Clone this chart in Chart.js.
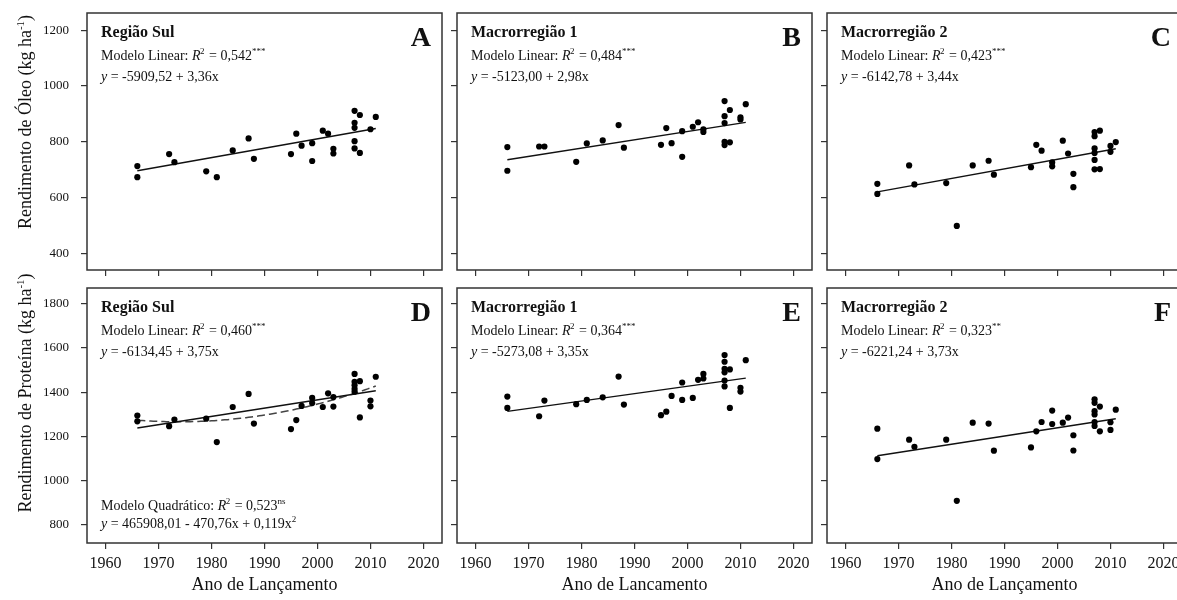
<!DOCTYPE html>
<html>
<head>
<meta charset="utf-8">
<script src="https://cdn.jsdelivr.net/npm/chart.js@4.4.0/dist/chart.umd.min.js"></script>
<style>
  html, body { margin: 0; padding: 0; background: #fff; overflow: hidden; }
  #wrap { position: relative; width: 1177px; height: 600px; overflow: hidden; }
  #wrap canvas { position: absolute; left: 0; top: 0; }
</style>
</head>
<body>
<div id="wrap"></div>
<script>
// ---- tick labels ----
const yearTicks = [1960, 1970, 1980, 1990, 2000, 2010, 2020];
const oilTicks = [400, 600, 800, 1000, 1200];
const proteinTicks = [800, 1000, 1200, 1400, 1600, 1800];

// ---- A: Região Sul, óleo ----
const yearsA = [1966,1966,1972,1973,1979,1981,1984,1987,1988,1995,1996,1997,1999,1999,2001,2002,2003,2003,2007,2007,2007,2007,2007,2008,2008,2010,2011];
const oilA   = [713,673,756,727,694,673,769,812,739,756,829,786,795,731,840,829,775,758,911,868,850,802,776,896,760,845,889];

// ---- B: Macrorregião 1, óleo ----
const yearsB = [1966,1966,1972,1973,1979,1981,1984,1987,1988,1995,1996,1997,1999,1999,2001,2002,2003,2003,2007,2007,2007,2007,2007,2008,2008,2010,2010,2011];
const oilB   = [781,696,783,783,728,794,805,860,779,789,849,795,838,746,854,870,845,835,946,892,867,800,788,914,798,888,880,935];

// ---- C: Macrorregião 2, óleo ----
const yearsC = [1966,1966,1972,1973,1979,1981,1984,1987,1988,1995,1996,1997,1999,1999,2001,2002,2003,2003,2007,2007,2007,2007,2007,2007,2008,2008,2010,2010,2011];
const oilC   = [649,613,715,647,652,498,715,732,682,709,789,768,726,712,804,758,685,637,835,820,776,760,735,701,840,702,785,764,799];

// ---- D: Região Sul, proteína ----
const yearsD = [1966,1966,1972,1973,1979,1981,1984,1987,1988,1995,1996,1997,1999,1999,2001,2002,2003,2003,2007,2007,2007,2007,2007,2008,2008,2010,2010,2011];
const protD  = [1294,1268,1246,1276,1280,1174,1333,1392,1258,1233,1274,1338,1374,1351,1333,1395,1378,1335,1483,1447,1432,1415,1402,1450,1286,1362,1336,1470];

// ---- E: Macrorregião 1, proteína ----
const yearsE = [1966,1966,1972,1973,1979,1981,1984,1987,1988,1995,1996,1997,1999,1999,2001,2002,2003,2003,2007,2007,2007,2007,2007,2007,2008,2008,2010,2010,2011];
const protE  = [1380,1329,1291,1362,1346,1365,1377,1471,1344,1296,1312,1383,1444,1365,1374,1456,1483,1462,1568,1538,1506,1490,1453,1426,1503,1329,1420,1403,1545];

// ---- F: Macrorregião 2, proteína ----
const yearsF = [1966,1966,1972,1973,1979,1981,1984,1987,1988,1995,1996,1997,1999,1999,2001,2002,2003,2003,2007,2007,2007,2007,2007,2007,2008,2008,2010,2010,2011];
const protF  = [1235,1097,1185,1153,1185,908,1262,1258,1135,1150,1223,1265,1317,1256,1262,1285,1205,1136,1368,1352,1314,1299,1265,1247,1335,1223,1264,1229,1321];

// ---- fitted linear models (intercept, slope) ----
const linA = [-5909.52, 3.36];
const linB = [-5123.00, 2.98];
const linC = [-6142.78, 3.44];
const linD = [-6134.45, 3.75];
const linE = [-5273.08, 3.35];
const linF = [-6221.24, 3.73];

const SERIF = '"Liberation Serif", "Times New Roman", serif';
const INK = '#111';
const CW = 1190, CH = 600;
const colLeft = [87, 457, 827];
const boxW = 355;
const rowBox = [{ top: 13, bottom: 270 }, { top: 288, bottom: 543 }];

// least-squares quadratic through the Região Sul protein data (centered for stability)
function quadFit(xs, ys) {
  const n = xs.length, mx = xs.reduce((a, b) => a + b, 0) / n;
  let s = [0, 0, 0, 0, 0], t = [0, 0, 0];
  xs.forEach((x, i) => {
    const u = x - mx, y = ys[i];
    s[0] += 1; s[1] += u; s[2] += u * u; s[3] += u * u * u; s[4] += u * u * u * u;
    t[0] += y; t[1] += u * y; t[2] += u * u * y;
  });
  const M = [[s[0], s[1], s[2], t[0]], [s[1], s[2], s[3], t[1]], [s[2], s[3], s[4], t[2]]];
  for (let c = 0; c < 3; c++) {
    for (let r = c + 1; r < 3; r++) {
      const f = M[r][c] / M[c][c];
      for (let k = c; k < 4; k++) M[r][k] -= f * M[c][k];
    }
  }
  const b = [0, 0, 0];
  for (let r = 2; r >= 0; r--) {
    let v = M[r][3];
    for (let k = r + 1; k < 3; k++) v -= M[r][k] * b[k];
    b[r] = v / M[r][r];
  }
  return x => { const u = x - mx; return b[0] + b[1] * u + b[2] * u * u; };
}

// draws a run of text pieces: [text, font, dy, extraAdvance]
function drawRuns(ctx, x, y, runs, align) {
  let w = 0;
  runs.forEach(r => { ctx.font = r[1]; w += ctx.measureText(r[0]).width + (r[3] || 0); });
  let cx = align === 'center' ? x - w / 2 : (align === 'right' ? x - w : x);
  ctx.textAlign = 'left';
  ctx.textBaseline = 'alphabetic';
  runs.forEach(r => {
    ctx.font = r[1];
    ctx.fillText(r[0], cx, y + (r[2] || 0));
    cx += ctx.measureText(r[0]).width + (r[3] || 0);
  });
}

const fReg = `14px ${SERIF}`;
const fIt = `italic 14px ${SERIF}`;
const fSup = `9px ${SERIF}`;

function modelRuns(label, r2, stars) {
  return [[label + ' ', fReg], ['R', fIt, 0, -0.5], ['2', fSup, -6, 1], [' = ' + r2, fReg], [stars, fSup, -6]];
}
function eqRuns(lin) {
  const a = lin[0].toFixed(2).replace('.', ',');
  const b = lin[1].toFixed(2).replace('.', ',');
  return [['y', fIt], [' = ' + a + ' + ' + b + 'x', fReg]];
}

const panels = [
  { col: 0, row: 0, xs: yearsA, ys: oilA, lin: linA, title: 'Região Sul', r2: '0,542', stars: '***', letter: 'A' },
  { col: 1, row: 0, xs: yearsB, ys: oilB, lin: linB, title: 'Macrorregião 1', r2: '0,484', stars: '***', letter: 'B' },
  { col: 2, row: 0, xs: yearsC, ys: oilC, lin: linC, title: 'Macrorregião 2', r2: '0,423', stars: '***', letter: 'C' },
  { col: 0, row: 1, xs: yearsD, ys: protD, lin: linD, title: 'Região Sul', r2: '0,460', stars: '***', letter: 'D', quad: true, xTitle: 'Ano de Lançamento' },
  { col: 1, row: 1, xs: yearsE, ys: protE, lin: linE, title: 'Macrorregião 1', r2: '0,364', stars: '***', letter: 'E', xTitle: 'Ano de Lancamento' },
  { col: 2, row: 1, xs: yearsF, ys: protF, lin: linF, title: 'Macrorregião 2', r2: '0,323', stars: '**', letter: 'F', xTitle: 'Ano de Lançamento' }
];

const framePlugin = {
  id: 'frame',
  afterDatasetsDraw(chart) {
    const a = chart.chartArea, ctx = chart.ctx;
    ctx.save();
    ctx.strokeStyle = '#333';
    ctx.lineWidth = 1.5;
    ctx.strokeRect(a.left, a.top, a.right - a.left, a.bottom - a.top);
    ctx.restore();
  }
};

const annotPlugin = {
  id: 'annot',
  afterDraw(chart) {
    const p = chart.options.plugins.annot.panel;
    const a = chart.chartArea, ctx = chart.ctx;
    ctx.save();
    ctx.fillStyle = INK;
    const lx = a.left + 14;
    drawRuns(ctx, lx, a.top + 24, [[p.title, `bold 16px ${SERIF}`]]);
    drawRuns(ctx, lx, a.top + 47, modelRuns('Modelo Linear:', p.r2, p.stars));
    drawRuns(ctx, lx, a.top + 68, eqRuns(p.lin));
    drawRuns(ctx, a.right - 11, a.top + 33, [[p.letter, `bold 28px ${SERIF}`]], 'right');
    if (p.quad) {
      drawRuns(ctx, lx, a.bottom - 33, modelRuns('Modelo Quadrático:', '0,523', 'ns'));
      drawRuns(ctx, lx, a.bottom - 15, [['y', fIt], [' = 465908,01 - 470,76x + 0,119x', fReg], ['2', fSup, -6]]);
    }
    if (p.xTitle) {
      drawRuns(ctx, (a.left + a.right) / 2, 590, [[p.xTitle, `18px ${SERIF}`]], 'center');
    }
    if (p.col === 0) {
      const label = p.row === 0 ? 'Rendimento de Óleo (kg ha' : 'Rendimento de Proteína (kg ha';
      const cy = p.row === 0 ? 122 : 393;
      ctx.translate(31, cy);
      ctx.rotate(-Math.PI / 2);
      drawRuns(ctx, 0, 0, [[label, `18px ${SERIF}`], ['-1', `11px ${SERIF}`, -7], [')', `18px ${SERIF}`]], 'center');
    }
    ctx.restore();
  }
};

const wrap = document.getElementById('wrap');

panels.forEach(p => {
  const canvas = document.createElement('canvas');
  canvas.width = CW;
  canvas.height = CH;
  canvas.style.width = CW + 'px';
  canvas.style.height = CH + 'px';
  wrap.appendChild(canvas);

  const box = rowBox[p.row];
  const left = colLeft[p.col];
  const isOil = p.row === 0;
  const yTicks = isOil ? oilTicks : proteinTicks;
  const x0 = Math.min(...p.xs), x1 = Math.max(...p.xs);
  const lf = x => p.lin[0] + p.lin[1] * x;

  const datasets = [
    {
      data: p.xs.map((x, i) => ({ x, y: p.ys[i] })),
      pointRadius: 3.1,
      pointBackgroundColor: '#000',
      pointBorderWidth: 0,
      showLine: false
    },
    {
      data: [{ x: x0, y: lf(x0) }, { x: x1, y: lf(x1) }],
      showLine: true,
      borderColor: '#111',
      borderWidth: 1.4,
      pointRadius: 0,
      fill: false
    }
  ];
  if (p.quad) {
    const qf = quadFit(p.xs, p.ys);
    const pts = [];
    for (let x = x0; x <= x1 + 1e-9; x += 0.5) pts.push({ x, y: qf(x) });
    datasets.push({
      data: pts,
      showLine: true,
      borderColor: '#444',
      borderWidth: 1.5,
      borderDash: [8, 4],
      pointRadius: 0,
      fill: false,
      tension: 0
    });
  }

  const gridOpts = {
    display: true,
    drawOnChartArea: false,
    drawTicks: true,
    tickLength: 6,
    color: '#333',
    lineWidth: 1.2
  };

  new Chart(canvas, {
    type: 'scatter',
    data: { datasets },
    options: {
      responsive: false,
      animation: false,
      devicePixelRatio: 1,
      layout: {
        padding: {
          left: left - 60,
          top: box.top,
          right: CW - (left + boxW),
          bottom: CH - box.bottom - 50
        }
      },
      plugins: {
        legend: { display: false },
        tooltip: { enabled: false },
        annot: { panel: p }
      },
      scales: {
        x: {
          type: 'linear',
          min: 1956.5,
          max: 2023.5,
          afterBuildTicks: s => { s.ticks = yearTicks.map(v => ({ value: v })); },
          afterFit: s => { s.height = 50; s.paddingLeft = 0; s.paddingRight = 0; },
          grid: gridOpts,
          border: { display: false },
          ticks: {
            display: p.row === 1,
            autoSkip: false,
            maxRotation: 0,
            minRotation: 0,
            padding: 5,
            color: INK,
            font: { family: SERIF, size: 16 },
            callback: v => String(v)
          }
        },
        y: {
          type: 'linear',
          min: isOil ? 340 : 717,
          max: isOil ? 1262 : 1872,
          afterBuildTicks: s => { s.ticks = yTicks.map(v => ({ value: v })); },
          afterFit: s => { s.width = 60; s.paddingTop = 0; s.paddingBottom = 0; },
          grid: gridOpts,
          border: { display: false },
          ticks: {
            display: p.col === 0,
            padding: 12,
            color: INK,
            font: { family: SERIF, size: 13 },
            callback: v => String(v)
          }
        }
      }
    },
    plugins: [framePlugin, annotPlugin]
  });
});
</script>
</body>
</html>
